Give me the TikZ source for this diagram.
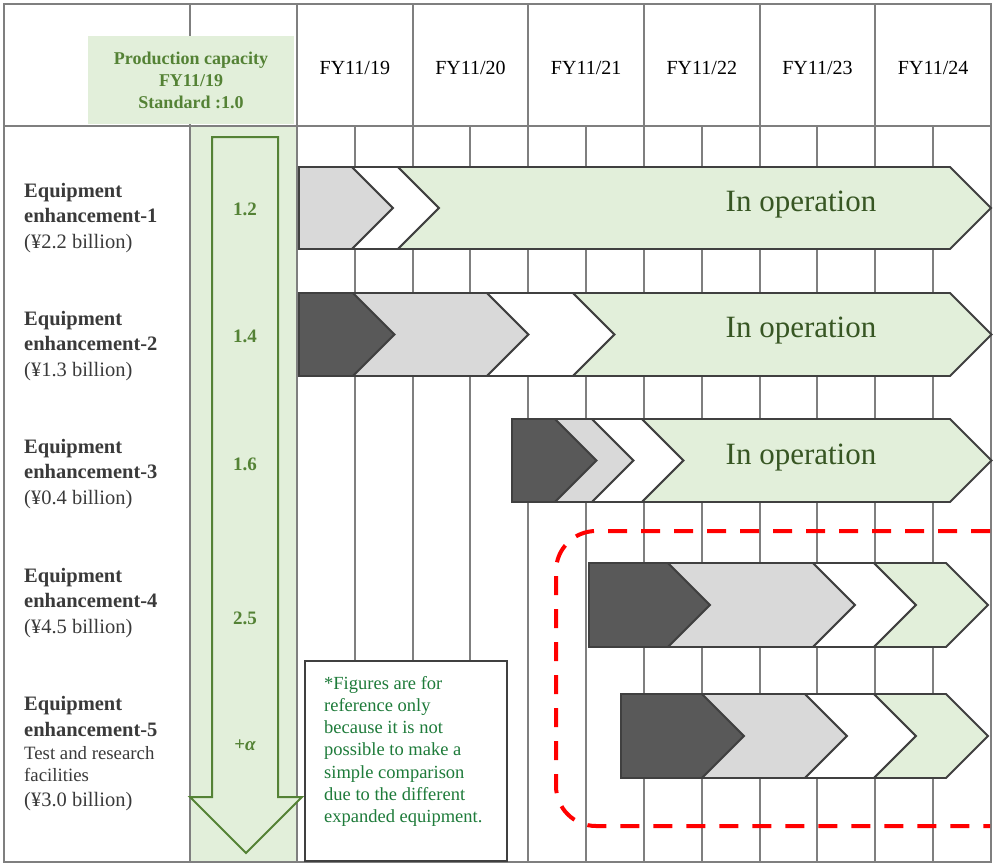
\documentclass[tikz,border=0pt]{standalone}
\usepackage{fontspec}
\setmainfont{Liberation Serif}
\usetikzlibrary{calc}
\definecolor{gridgray}{HTML}{7F7F7F}
\definecolor{lgreen}{HTML}{E2EFDA}
\definecolor{mgreen}{HTML}{548235}
\definecolor{dgreen}{HTML}{375623}
\definecolor{notegreen}{HTML}{1E7B3A}
\definecolor{darkseg}{HTML}{595959}
\definecolor{lightseg}{HTML}{D9D9D9}
\definecolor{outl}{HTML}{404040}
\definecolor{labelc}{HTML}{3A3A3A}
\newcommand\chevfirst[5]{\draw[chevline,fill=#1] (#2,#4) -- (#3,#4) -- ({#3+(#5-#4)/2},{(#4+#5)/2}) -- (#3,#5) -- (#2,#5) -- cycle;}
\newcommand\chevnext[5]{\draw[chevline,fill=#1] (#2,#4) -- (#3,#4) -- ({#3+(#5-#4)/2},{(#4+#5)/2}) -- (#3,#5) -- (#2,#5) -- ({#2+(#5-#4)/2},{(#4+#5)/2}) -- cycle;}
\tikzset{
  gridline/.style={draw=gridgray, line width=2pt},
  chevline/.style={draw=outl, line width=1.8pt, line join=miter},
  rowlab/.style={font=\fontsize{20.5}{25.5}\selectfont, align=left, text=labelc, inner sep=0pt, anchor=west},
  linelab/.style={text=labelc, inner sep=0pt, anchor=base west},
  yearlab/.style={font=\fontsize{20}{24}\selectfont, inner sep=0pt},
  caplab/.style={font=\bfseries\fontsize{19}{22}\selectfont, text=mgreen, inner sep=0pt},
  oplab/.style={font=\fontsize{31}{36}\selectfont, text=dgreen, inner sep=0pt},
}
\begin{document}
\begin{tikzpicture}[x=1pt,y=-1pt]
\useasboundingbox (0,0) rectangle (999,865);
\fill[white] (0,0) rectangle (999,865);
% green capacity column
\fill[lgreen] (190,126) rectangle (297,862);
% grid
\foreach \k in {1,...,11} {\draw[gridline] ({297+\k*57.83},126) -- ({297+\k*57.83},862);}
\foreach \k in {2,4,...,10} {\draw[gridline] ({297+\k*57.83},4) -- ({297+\k*57.83},126);}
\draw[gridline] (4,126) -- (991,126);
\draw[gridline] (190,4) -- (190,862);
\draw[gridline] (297,4) -- (297,862);
\draw[gridline] (4,4) rectangle (991,862);
% header box
\node[fill=lgreen, minimum width=206pt, minimum height=88pt, inner sep=0pt,
      align=center, font=\bfseries\fontsize{18}{22}\selectfont, text=mgreen] (capbox) at (191,80)
  {Production capacity\\FY11/19\\Standard :1.0};
% year labels
\foreach \i/\t in {0/19,1/20,2/21,3/22,4/23,5/24}
  {\node[yearlab] (y\t) at ({297+(2*\i+1)*57.83},68) {FY11/\t};}
% capacity arrow
\draw[mgreen, line width=2pt, fill=lgreen, line join=miter]
  (212,137) -- (278,137) -- (278,797) -- (302,797) -- (246,853) -- (190,797) -- (212,797) -- cycle;
\node[caplab] (c1) at (245,209) {1.2};
\node[caplab] (c2) at (245,336) {1.4};
\node[caplab] (c3) at (245,464) {1.6};
\node[caplab] (c4) at (245,618) {2.5};
\node[caplab] (c5) at (245,745) {+{\itshape α}};
% row 1
\chevfirst{lightseg}{299}{352}{167}{249}
\chevnext{white}{352}{398}{167}{249}
\chevnext{lgreen}{398}{950}{167}{249}
% row 2
\chevfirst{darkseg}{299}{353}{293}{376}
\chevnext{lightseg}{353}{487}{293}{376}
\chevnext{white}{487}{573}{293}{376}
\chevnext{lgreen}{573}{950}{293}{376}
% row 3
\chevfirst{darkseg}{512}{555}{419}{502}
\chevnext{lightseg}{555}{592}{419}{502}
\chevnext{white}{592}{642}{419}{502}
\chevnext{lgreen}{642}{950}{419}{502}
% row 4
\chevfirst{darkseg}{589}{668}{563}{647}
\chevnext{lightseg}{668}{813}{563}{647}
\chevnext{white}{813}{874}{563}{647}
\chevnext{lgreen}{874}{946}{563}{647}
% row 5
\chevfirst{darkseg}{621}{702}{694}{778}
\chevnext{lightseg}{702}{805}{694}{778}
\chevnext{white}{805}{874}{694}{778}
\chevnext{lgreen}{874}{946}{694}{778}
% in operation labels
\node[oplab] (op1) at (801,205) {In operation};
\node[oplab] (op2) at (801,331) {In operation};
\node[oplab] (op3) at (801,458) {In operation};
% row labels
\node[rowlab] (lab1) at (24,218) {\textbf{Equipment}\\\textbf{enhancement-1}\\(¥2.2 billion)};
\node[rowlab] (lab2) at (24,346) {\textbf{Equipment}\\\textbf{enhancement-2}\\(¥1.3 billion)};
\node[rowlab] (lab3) at (24,474) {\textbf{Equipment}\\\textbf{enhancement-3}\\(¥0.4 billion)};
\node[rowlab] (lab4) at (24,603) {\textbf{Equipment}\\\textbf{enhancement-4}\\(¥4.5 billion)};
\node[linelab, font=\bfseries\fontsize{20.5}{25}\selectfont] (lab5a) at (24,710.5) {Equipment};
\node[linelab, font=\bfseries\fontsize{20.5}{25}\selectfont] (lab5b) at (24,736.5) {enhancement-5};
\node[linelab, font=\fontsize{18.8}{22}\selectfont] (lab5c) at (24,759.5) {Test and research};
\node[linelab, font=\fontsize{18.8}{22}\selectfont] (lab5d) at (24,781.5) {facilities};
\node[linelab, font=\fontsize{20.5}{25}\selectfont] (lab5e) at (24,806.5) {(¥3.0 billion)};
% note box
\draw[outl, line width=1.5pt, fill=white] (305,661) rectangle (507,861);
\node[anchor=north west, align=left, inner sep=0pt, text=notegreen,
      font=\fontsize{18.5}{22.2}\selectfont] (note) at (324,676)
  {*Figures are for\\reference only\\because it is not\\possible to make a\\simple comparison\\due to the different\\expanded equipment.};
% dashed red frame
\draw[red, line width=4pt, dash pattern=on 19pt off 14pt, rounded corners=40pt]
  (990,531) -- (556,531) -- (556,826) -- (990,826);
\end{tikzpicture}
\end{document}
